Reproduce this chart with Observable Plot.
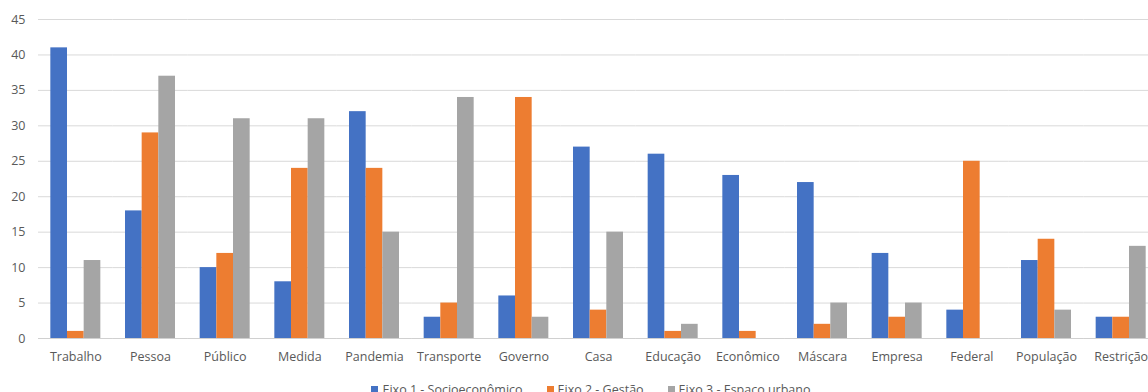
<!DOCTYPE html>
<html>
<head>
<meta charset="utf-8">
<script src="https://cdn.jsdelivr.net/npm/d3@7"></script>
<script src="https://cdn.jsdelivr.net/npm/@observablehq/plot@0.6"></script>
<style>
  html, body { margin: 0; padding: 0; background: #fff; overflow: hidden; }
  #chart { width: 1148px; overflow: hidden; }
  #chart svg { max-width: none !important; }
  .legend { display: flex; justify-content: center; gap: 24px; width: 1182px;
            font: 12.5px "Open Sans", sans-serif; color: #595959; margin-top: 9px; }
  .legend span.item { display: flex; align-items: center; white-space: nowrap; }
  .legend i { display: inline-block; width: 7px; height: 7px; margin-right: 4px; }
</style>
</head>
<body>
<div id="chart"></div>
<script>
// Word frequency per thematic axis
const categories = ["Trabalho", "Pessoa", "Público", "Medida", "Pandemia", "Transporte", "Governo",
  "Casa", "Educação", "Econômico", "Máscara", "Empresa", "Federal", "População", "Restrição"];
const seriesNames = ["Eixo 1 - Socioeconômico", "Eixo 2 - Gestão", "Eixo 3 - Espaço urbano"];
const eixo1 = [41, 18, 10, 8, 32, 3, 6, 27, 26, 23, 22, 12, 4, 11, 3];
const eixo2 = [1, 29, 12, 24, 24, 5, 34, 4, 1, 1, 2, 3, 25, 14, 3];
const eixo3 = [11, 37, 31, 31, 15, 34, 3, 15, 2, 0, 5, 5, 0, 4, 13];
const yTicks = [0, 5, 10, 15, 20, 25, 30, 35, 40, 45];
const colors = ["#4472C4", "#ED7D31", "#A5A5A5"];

const seriesValues = [eixo1, eixo2, eixo3];
const rows = [];
categories.forEach((c, i) => {
  seriesNames.forEach((s, j) => rows.push({category: c, series: s, value: seriesValues[j][i]}));
});

const plot = Plot.plot({
  width: 1160,
  height: 372,
  marginTop: 19,
  marginBottom: 34,
  marginLeft: 38,
  marginRight: 2,
  style: {fontFamily: "'Open Sans', sans-serif", fontSize: "12.5px", color: "#595959", background: "#fff"},
  fx: {domain: categories, padding: 0, round: false, label: null, tickSize: 0, tickPadding: 14},
  x: {domain: seriesNames, paddingInner: 0, paddingOuter: 0.74, round: false, axis: null},
  y: {domain: [0, 45], ticks: yTicks, label: null, tickSize: 0, tickPadding: 13},
  color: {domain: seriesNames, range: colors},
  marks: [
    Plot.gridY(yTicks, {stroke: "#d9d9d9", strokeOpacity: 1, strokeWidth: 1}),
    Plot.barY(rows, {fx: "category", x: "series", y: "value", fill: "series"}),
    Plot.ruleY([0], {stroke: "#d0d0d0", strokeWidth: 1})
  ]
});
plot.style.maxWidth = "none";
document.getElementById("chart").appendChild(plot);

const legend = document.createElement("div");
legend.className = "legend";
seriesNames.forEach((s, j) => {
  const item = document.createElement("span");
  item.className = "item";
  const sw = document.createElement("i");
  sw.style.background = colors[j];
  item.appendChild(sw);
  item.appendChild(document.createTextNode(s));
  legend.appendChild(item);
});
document.getElementById("chart").appendChild(legend);
</script>
</body>
</html>
